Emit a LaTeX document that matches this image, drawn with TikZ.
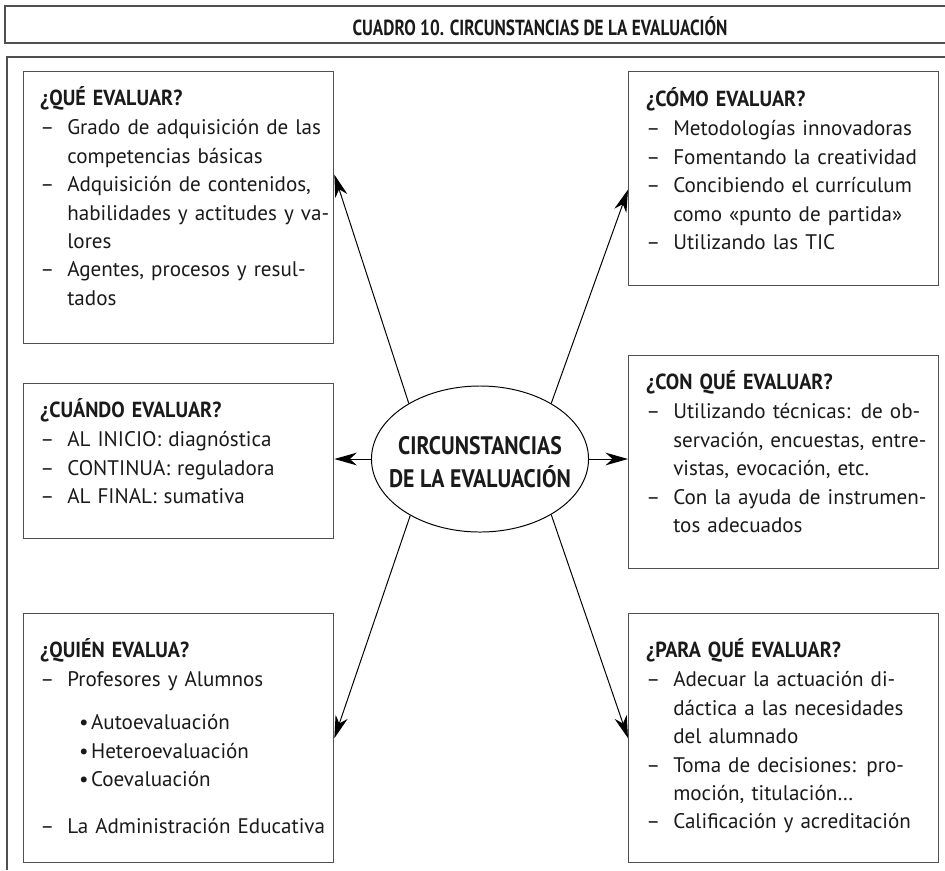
\documentclass[tikz,border=0pt]{standalone}
\usepackage{fontspec}
\setmainfont{PT Sans}
\newfontfamily\estrecha{PT Sans}[FakeStretch=0.92]
\newfontfamily\condensada{PT Sans}[FakeStretch=0.79]
\newfontfamily\centrada{PT Sans}[FakeStretch=0.86]
\usetikzlibrary{arrows.meta,shapes.geometric}
\definecolor{marco}{HTML}{505050}
\definecolor{tinta}{HTML}{1A1A1A}

% piezas de las listas
\newcommand{\encab}[1]{{\estrecha\bfseries\fontsize{15.5}{20.2}\selectfont #1}}
\newcommand{\guion}{\makebox[0.675cm][l]{–}}
\newcommand{\sangria}{\hspace*{0.675cm}}
\newcommand{\justa}[1]{\makebox[6.45cm][s]{#1}}
\newcommand{\punto}{\hspace*{0.97cm}\makebox[0.3cm][l]{\textbullet}}

\begin{document}
\begin{tikzpicture}[x=0.025cm,y=-0.025cm,>=Stealth,
	borde/.style={draw=marco,line width=1.1pt},
	caja/.style={draw=marco,line width=0.9pt,anchor=north west,minimum width=7.75cm,inner sep=0pt},
	texto/.style={anchor=base west,inner sep=0pt,text width=7.2cm,align=left,font=\fontsize{15}{20.2}\selectfont,text=tinta},
	flecha/.style={-{Stealth[length=16pt,width=9pt,inset=5pt]},line width=0.7pt}]
		
		\useasboundingbox (0,0) rectangle (945,870);
		
		% Title and frame
		\draw[borde] (945,6) -| (5,43) -- (945,43);
		\node[font=\condensada\bfseries\fontsize{15.5}{18}\selectfont,text=tinta] (titulo) at (540,26) {CUADRO 10. CIRCUNSTANCIAS DE LA EVALUACI\'ON};
		\draw[borde] (945,57) -| (7,870);
		
		% Boxes
		\node[caja,minimum height=6.8cm] (que) at (23,71) {};
		\node[caja,minimum height=5.35cm] (como) at (628,71) {};
		\node[caja,minimum height=3.875cm] (cuando) at (23,383) {};
		\node[caja,minimum height=5.325cm] (conque) at (628,355) {};
		\node[caja,minimum height=6.225cm] (quien) at (23,613) {};
		\node[caja,minimum height=6.225cm] (paraque) at (628,613) {};
		
		\node[texto] (que-t) at ([xshift=0.425cm,yshift=-0.85cm]que.north west) {%
			\encab{¿QUÉ EVALUAR?}\\[1pt]
			\guion\justa{Grado de adquisición de las}\\
			\sangria competencias básicas\\
			\guion\justa{Adquisición de contenidos,}\\
			\sangria\justa{habilidades y actitudes y va-}\\
			\sangria lores\\
			\guion\justa{Agentes, procesos y resul-}\\
			\sangria tados};
		
		\node[texto] (como-t) at ([xshift=0.45cm,yshift=-0.875cm]como.north west) {%
			\encab{¿CÓMO EVALUAR?}\\[1pt]
			\guion\justa{Metodologías innovadoras}\\
			\guion\justa{Fomentando la creatividad}\\
			\guion\justa{Concibiendo el currículum}\\
			\sangria como «punto de partida»\\
			\guion Utilizando las TIC};
		
		\node[texto] (cuando-t) at ([xshift=0.425cm,yshift=-0.85cm]cuando.north west) {%
			\encab{¿CUÁNDO EVALUAR?}\\[1pt]
			\guion AL INICIO: diagnóstica\\
			\guion CONTINUA: reguladora\\
			\guion AL FINAL: sumativa};
		
		\node[texto] (conque-t) at ([xshift=0.45cm,yshift=-0.85cm]conque.north west) {%
			\encab{¿CON QUÉ EVALUAR?}\\[1pt]
			\guion\justa{Utilizando técnicas: de ob-}\\
			\sangria\justa{servación, encuestas, entre-}\\
			\sangria vistas, evocación, etc.\\
			\guion\justa{Con la ayuda de instrumen-}\\
			\sangria tos adecuados};
		
		\node[texto] (quien-t) at ([xshift=0.425cm,yshift=-1.1cm]quien.north west) {%
			\encab{¿QUIÉN EVALUA?}\\[1pt]
			\guion Profesores y Alumnos\\[10.3pt]
			\punto Autoevaluación\\
			\punto Heteroevaluación\\
			\punto Coevaluación\\[13pt]
			\guion La Administración Educativa};
		
		\node[texto] (paraque-t) at ([xshift=0.45cm,yshift=-1.1cm]paraque.north west) {%
			\encab{¿PARA QUÉ EVALUAR?}\\[1pt]
			\guion\justa{Adecuar la actuación di-}\\
			\sangria\justa{dáctica a las necesidades}\\
			\sangria del alumnado\\
			\guion\justa{Toma de decisiones: pro-}\\
			\sangria moción, titulación…\\
			\guion Calificación y acreditación};
		
		% Centre
		\node[draw,ellipse,line width=0.7pt,minimum width=5.425cm,minimum height=3.65cm,inner sep=0pt] (elipse) at (480,459) {};
		\node[font=\centrada\bfseries\fontsize{18}{23.5}\selectfont,align=center,text=tinta] (elipse-t) at ([yshift=-0.075cm]elipse.center) {CIRCUNSTANCIAS\\DE LA EVALUACIÓN};
		
		% Arrows
		\draw[flecha] (elipse.142.5) -- (que.12.4);
		\draw[flecha] (elipse.38.7) -- (como.184.4);
		\draw[flecha] (elipse.west) -- (elipse.west -| cuando.east);
		\draw[flecha] (elipse.east) -- (elipse.east -| conque.west);
		\draw[flecha] (elipse.219.1) -- (quien.-0.9);
		\draw[flecha] (elipse.322.3) -- (paraque.west);
		
	\end{tikzpicture}
\end{document}
